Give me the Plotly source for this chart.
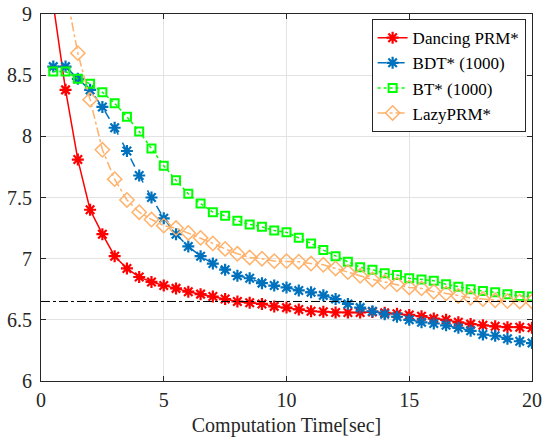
import plotly.graph_objects as go

x = [0.5 * i for i in range(1, 41)]

dancing = [9.08, 8.38, 7.81, 7.40, 7.20, 7.02, 6.92, 6.85, 6.81, 6.78,
           6.757, 6.73, 6.71, 6.69, 6.67, 6.65, 6.64, 6.63, 6.61, 6.60,
           6.585, 6.57, 6.566, 6.56, 6.56, 6.56, 6.565, 6.557, 6.55, 6.54,
           6.53, 6.51, 6.50, 6.48, 6.465, 6.455, 6.447, 6.44, 6.44, 6.435]

bdt = [8.57, 8.57, 8.47, 8.38, 8.24, 8.07, 7.88, 7.68, 7.50, 7.33,
       7.20, 7.10, 7.02, 6.96, 6.91, 6.86, 6.84, 6.80, 6.78, 6.765,
       6.74, 6.725, 6.70, 6.67, 6.63, 6.60, 6.57, 6.545, 6.525, 6.50,
       6.48, 6.47, 6.455, 6.435, 6.41, 6.38, 6.37, 6.345, 6.325, 6.31]

bt = [8.53, 8.53, 8.47, 8.43, 8.36, 8.27, 8.16, 8.04, 7.90, 7.76,
      7.64, 7.53, 7.45, 7.38, 7.35, 7.31, 7.28, 7.26, 7.23, 7.215,
      7.17, 7.125, 7.07, 7.02, 6.975, 6.93, 6.91, 6.88, 6.866, 6.84,
      6.83, 6.82, 6.79, 6.77, 6.75, 6.735, 6.725, 6.71, 6.695, 6.69]

lazy = [9.8, 9.2, 8.68, 8.30, 7.89, 7.65, 7.48, 7.38, 7.32, 7.27,
        7.25, 7.21, 7.17, 7.125, 7.08, 7.04, 7.01, 7.00, 6.98, 6.98,
        6.975, 6.96, 6.95, 6.92, 6.89, 6.86, 6.83, 6.81, 6.79, 6.765,
        6.757, 6.73, 6.716, 6.695, 6.68, 6.67, 6.66, 6.653, 6.65, 6.65]

ref_level = 6.65

x_ticks = [0, 5, 10, 15, 20]
y_ticks = [6, 6.5, 7, 7.5, 8, 8.5, 9]
y_tick_labels = ["6", "6.5", "7", "7.5", "8", "8.5", "9"]

FONT = "Liberation Serif"
INK = "#262626"

fig = go.Figure()

fig.add_trace(go.Scatter(
    x=x, y=dancing, name="Dancing PRM*", mode="lines+markers",
    line=dict(color="#FF0000", width=1.5, dash="solid"),
    marker=dict(symbol="asterisk-open", size=10, color="#FF0000",
                line=dict(color="#FF0000", width=2.2))))

fig.add_trace(go.Scatter(
    x=x, y=bdt, name="BDT* (1000)", mode="lines+markers",
    line=dict(color="#0072BD", width=1.5, dash="dash"),
    marker=dict(symbol="asterisk-open", size=10, color="#0072BD",
                line=dict(color="#0072BD", width=2.2))))

fig.add_trace(go.Scatter(
    x=x, y=bt, name="BT* (1000)", mode="lines+markers",
    line=dict(color="#00FF00", width=1.5, dash="dot"),
    marker=dict(symbol="square-open", size=8, color="#00FF00",
                line=dict(color="#00FF00", width=2))))

fig.add_trace(go.Scatter(
    x=x, y=lazy, name="LazyPRM*", mode="lines+markers",
    line=dict(color="#FFB26B", width=1.5, dash="dashdot"),
    marker=dict(symbol="diamond-open", size=11, color="#FFB26B",
                line=dict(color="#FFB26B", width=1.5))))

fig.add_shape(type="line", xref="x", yref="y", x0=0, x1=20,
              y0=ref_level, y1=ref_level,
              line=dict(color="black", width=1, dash="dashdot"))

axis_common = dict(
    showline=True, linecolor=INK, linewidth=1, mirror="ticks",
    ticks="inside", ticklen=5, tickcolor=INK,
    showgrid=True, gridcolor="#E3E3E3", gridwidth=1, zeroline=False,
    tickfont=dict(family=FONT, size=20, color=INK),
    automargin=False,
)

fig.update_xaxes(range=[0, 20], tickvals=x_ticks,
                 ticklabelstandoff=1,
                 title=dict(text="Computation Time[sec]",
                            font=dict(family=FONT, size=20, color=INK),
                            standoff=7),
                 **axis_common)
fig.update_yaxes(range=[6, 9], tickvals=y_ticks, ticktext=y_tick_labels,
                 ticklabelstandoff=4,
                 **axis_common)

fig.update_layout(
    template="none",
    width=545, height=441,
    margin=dict(l=41, r=13, t=14, b=60),
    paper_bgcolor="white", plot_bgcolor="white",
    font=dict(family=FONT, color=INK),
    showlegend=True,
    legend=dict(x=0.987, y=0.986, xanchor="right", yanchor="top",
                bgcolor="white", bordercolor=INK, borderwidth=1,
                font=dict(family=FONT, size=17, color="#000000"),
                tracegroupgap=0, itemwidth=30),
)

fig.write_html("out.html")
